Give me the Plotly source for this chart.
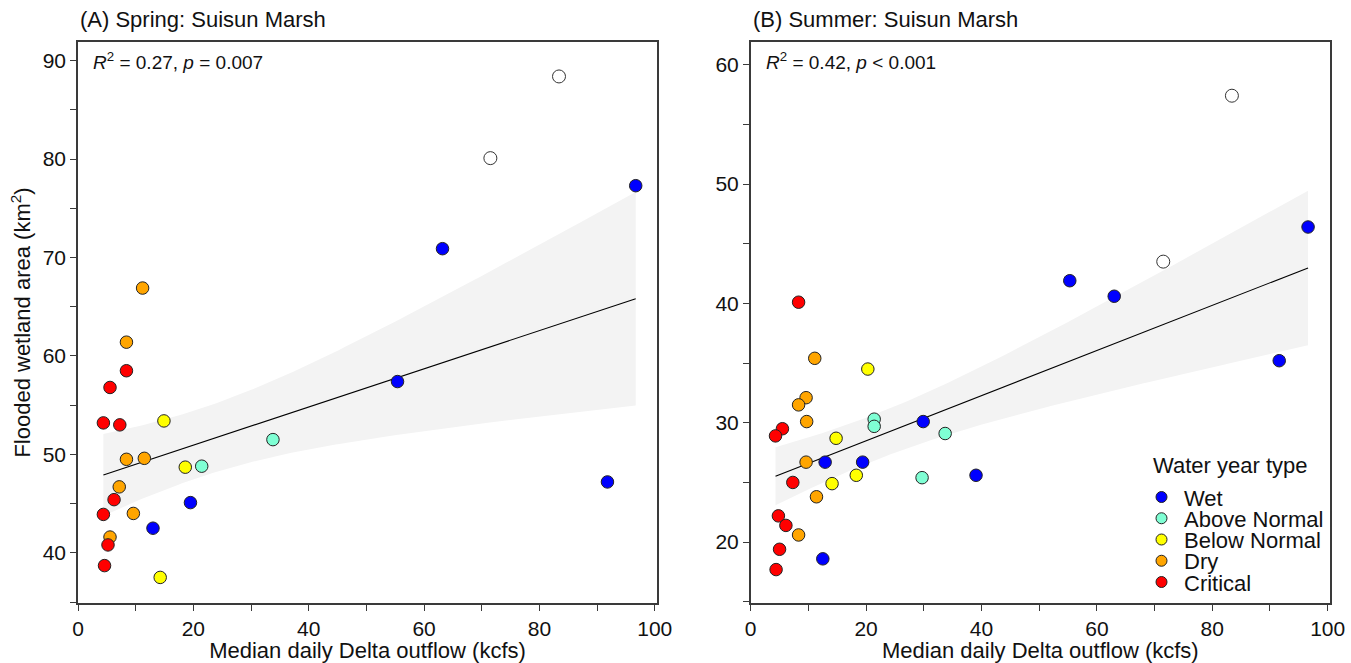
import numpy as np
import plotly.graph_objects as go

# ---------------- data ----------------
TYPES = ["Wet", "Above Normal", "Below Normal", "Dry", "Critical"]
TYPE_COLORS = ["#0000FF", "#7FFFD4", "#FFFF00", "#FFA500", "#FF0000"]
EXCLUDED = "Excluded"   # open circles, not used in the fit

# (A) Spring
spring_x = [96.7, 63.2, 55.4, 91.8, 19.5, 13.0,
            33.8, 21.45,
            14.9, 18.6, 14.25,
            11.2, 8.4, 8.4, 11.5, 7.15, 9.6, 5.55,
            8.4, 5.55, 4.4, 7.25, 6.25, 4.4, 5.2, 4.6,
            83.4, 71.5]
spring_y = [77.3, 70.9, 57.4, 47.2, 45.1, 42.5,
            51.5, 48.8,
            53.4, 48.7, 37.5,
            66.9, 61.4, 49.5, 49.6, 46.7, 44.0, 41.6,
            58.5, 56.8, 53.2, 53.0, 45.4, 43.9, 40.8, 38.7,
            88.4, 80.1]
spring_type = (["Wet"] * 6 + ["Above Normal"] * 2 + ["Below Normal"] * 3 +
               ["Dry"] * 7 + ["Critical"] * 8 + [EXCLUDED] * 2)

# (B) Summer
summer_x = [96.6, 63.0, 55.3, 91.6, 39.05, 29.9, 19.4, 12.9, 12.5,
            21.4, 21.4, 33.7, 29.7,
            20.3, 14.8, 18.3, 14.1,
            11.1, 9.6, 8.3, 9.7, 9.6, 11.4, 8.3,
            8.3, 5.5, 4.3, 7.3, 4.8, 6.1, 5.0, 4.4,
            83.4, 71.5]
summer_y = [46.4, 40.6, 41.9, 35.2, 25.6, 30.1, 26.7, 26.7, 18.6,
            30.3, 29.7, 29.1, 25.4,
            34.5, 28.7, 25.6, 24.9,
            35.4, 32.1, 31.5, 30.1, 26.7, 23.8, 20.6,
            40.1, 29.5, 28.9, 25.0, 22.2, 21.4, 19.4, 17.7,
            57.4, 43.5]
summer_type = (["Wet"] * 9 + ["Above Normal"] * 4 + ["Below Normal"] * 4 +
               ["Dry"] * 7 + ["Critical"] * 8 + [EXCLUDED] * 2)

panel_titles = ["(A) Spring: Suisun Marsh", "(B) Summer: Suisun Marsh"]
stat_labels = ["<i>R</i><sup>2</sup> = 0.27, <i>p</i> = 0.007",
               "<i>R</i><sup>2</sup> = 0.42, <i>p</i> < 0.001"]
x_title = "Median daily Delta outflow (kcfs)"
y_title = "Flooded wetland area (km<sup>2</sup>)"
legend_title = "Water year type"

# ---------------- helpers ----------------
FONT = "Arial, 'Liberation Sans', sans-serif"
INK = "#111111"
AXC = "#3a3a3a"


def t_crit(df):
    try:
        from scipy import stats
        return float(stats.t.ppf(0.975, df))
    except Exception:
        z = 1.959964
        return (z + (z**3 + z) / (4 * df)
                + (5 * z**5 + 16 * z**3 + 3 * z) / (96 * df**2)
                + (3 * z**7 + 19 * z**5 + 17 * z**3 - 15 * z) / (384 * df**3))


def fit(xs, ys, ts):
    x = np.array([v for v, t in zip(xs, ts) if t != EXCLUDED], float)
    y = np.array([v for v, t in zip(ys, ts) if t != EXCLUDED], float)
    n = len(x)
    b, a = np.polyfit(x, y, 1)
    xg = np.linspace(x.min(), x.max(), 150)
    yg = a + b * xg
    s = np.sqrt(np.sum((y - (a + b * x)) ** 2) / (n - 2))
    sxx = np.sum((x - x.mean()) ** 2)
    se = s * np.sqrt(1.0 / n + (xg - x.mean()) ** 2 / sxx)
    tc = t_crit(n - 2)
    return xg, yg, yg - tc * se, yg + tc * se


fig = go.Figure()

panels = [(spring_x, spring_y, spring_type, "x", "y"),
          (summer_x, summer_y, summer_type, "x2", "y2")]

for xs, ys, ts, xa, ya in panels:
    xg, yg, lo, hi = fit(xs, ys, ts)
    fig.add_trace(go.Scatter(
        x=np.concatenate([xg, xg[::-1]]), y=np.concatenate([hi, lo[::-1]]),
        fill="toself", fillcolor="#F3F3F3", line=dict(width=0),
        mode="lines", hoverinfo="skip", showlegend=False, xaxis=xa, yaxis=ya))
    fig.add_trace(go.Scatter(
        x=xg, y=yg, mode="lines", line=dict(color="#000000", width=1.1),
        hoverinfo="skip", showlegend=False, xaxis=xa, yaxis=ya))
    ex = [(a, b) for a, b, t in zip(xs, ys, ts) if t == EXCLUDED]
    fig.add_trace(go.Scatter(
        x=[p[0] for p in ex], y=[p[1] for p in ex], mode="markers",
        marker=dict(size=13, color="#FFFFFF", line=dict(color="#333333", width=1)),
        showlegend=False, xaxis=xa, yaxis=ya))
    for name, col in zip(TYPES, TYPE_COLORS):
        pts = [(a, b) for a, b, t in zip(xs, ys, ts) if t == name]
        fig.add_trace(go.Scatter(
            x=[p[0] for p in pts], y=[p[1] for p in pts], mode="markers",
            name=name,
            marker=dict(size=12.5, color=col, line=dict(color="#222222", width=1)),
            showlegend=False, xaxis=xa, yaxis=ya))

axis_common = dict(
    showline=True, mirror=True, linecolor=AXC, linewidth=1.5,
    ticks="outside", ticklen=6, tickwidth=1.3, tickcolor=AXC,
    showgrid=False, zeroline=False, automargin=False,
    tickfont=dict(family=FONT, size=21, color=INK),
)

xaxis_common = dict(axis_common, range=[0, 100.4], tick0=0, dtick=20,
                    minor=dict(dtick=10, ticks="outside", ticklen=6,
                               tickwidth=1.3, tickcolor=AXC, showgrid=False),
                    title=dict(text=x_title, font=dict(family=FONT, size=22, color=INK),
                               standoff=3))

fig.update_layout(
    width=1351, height=663,
    margin=dict(l=78, r=21, t=42, b=60),
    paper_bgcolor="white", plot_bgcolor="white",
    showlegend=False,
    font=dict(family=FONT, color=INK),
    xaxis=dict(xaxis_common, domain=[0, 0.4625], anchor="y"),
    xaxis2=dict(xaxis_common, domain=[0.5373, 1.0], anchor="y2"),
    yaxis=dict(axis_common, range=[34.9, 91.9], tick0=0, dtick=10, anchor="x",
               minor=dict(dtick=5, ticks="outside", ticklen=6,
                          tickwidth=1.3, tickcolor=AXC, showgrid=False),
               title=dict(text=y_title, font=dict(family=FONT, size=22, color=INK),
                          standoff=6)),
    yaxis2=dict(axis_common, range=[14.9, 61.9], tick0=0, dtick=10, anchor="x2",
                minor=dict(dtick=5, ticks="outside", ticklen=6,
                           tickwidth=1.3, tickcolor=AXC, showgrid=False)),
)

PH = 663 - 42 - 60
PW = 1351 - 78 - 21


def px_x(p):
    return (p - 78) / PW


def px_y(p):
    return 1 - (p - 42) / PH


# panel titles and statistics
for i, (xa, ya) in enumerate([("x", "y"), ("x2", "y2")]):
    fig.add_annotation(text=panel_titles[i], xref=f"{xa} domain", yref=f"{ya} domain",
                       x=0.0, y=1 + (42 - 20) / PH, xanchor="left", yanchor="middle",
                       showarrow=False, font=dict(family=FONT, size=22, color=INK))
    fig.add_annotation(text=stat_labels[i], xref=f"{xa} domain", yref=f"{ya} domain",
                       x=0.023, y=1 - (61 - 42) / PH, xanchor="left", yanchor="middle",
                       showarrow=False, font=dict(family=FONT, size=19, color=INK))

# legend (drawn inside the right panel)
fig.add_annotation(text=legend_title, xref="paper", yref="paper",
                   x=px_x(1151), y=px_y(466), xanchor="left", yanchor="middle",
                   showarrow=False, font=dict(family=FONT, size=22, color=INK))
for i, (name, col) in enumerate(zip(TYPES, TYPE_COLORS)):
    yc = 497 + i * 21.25
    fig.add_shape(type="circle", xref="paper", yref="paper",
                  xsizemode="pixel", ysizemode="pixel",
                  xanchor=px_x(1161.5), yanchor=px_y(yc),
                  x0=-5.5, x1=5.5, y0=-5.5, y1=5.5,
                  fillcolor=col, line=dict(color="#222222", width=1))
    fig.add_annotation(text=name, xref="paper", yref="paper",
                       x=px_x(1182), y=px_y(yc + 1), xanchor="left", yanchor="middle",
                       showarrow=False, font=dict(family=FONT, size=22, color=INK))

fig.write_html("out.html")
